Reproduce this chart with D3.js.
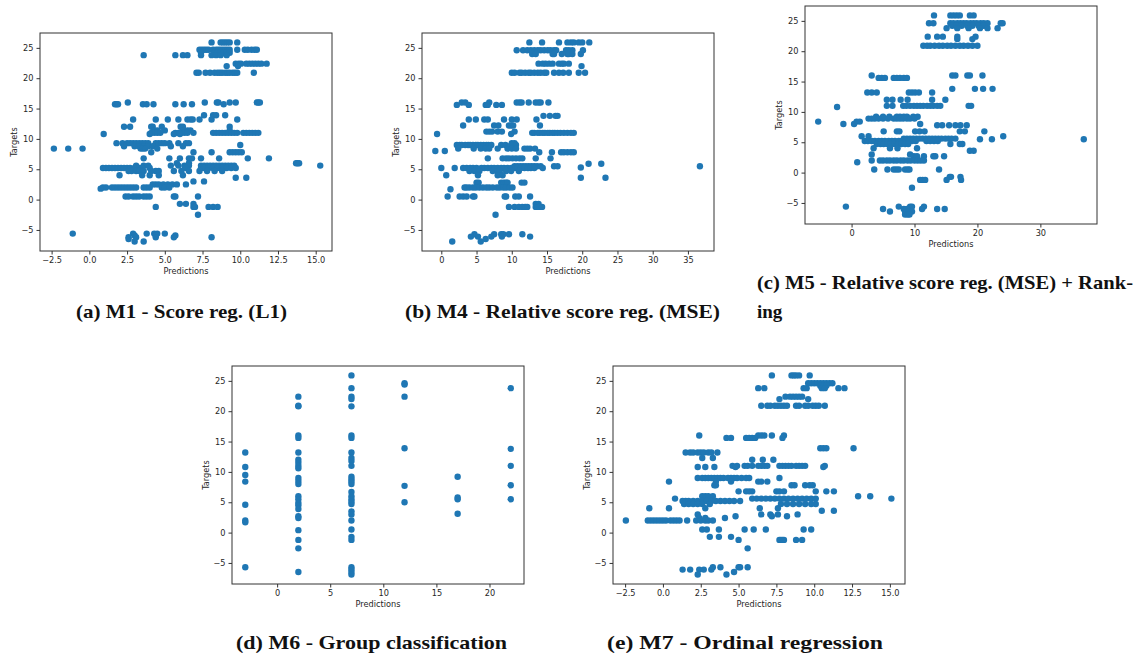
<!DOCTYPE html>
<html>
<head>
<meta charset="utf-8">
<script src="https://cdn.jsdelivr.net/npm/d3@7"></script>
<style>
  body { margin: 0; background: #fff; }
  svg { display: block; }
  .tick text { font-family: "DejaVu Sans", sans-serif; font-size: 8.2px; fill: #262626; }
  .tick line { stroke: #333; }
  .lab { font-family: "DejaVu Sans", sans-serif; font-size: 8.2px; fill: #262626; }
  .cap { font-family: "Liberation Serif", serif; font-weight: bold; font-size: 19px; fill: #111; }
</style>
</head>
<body>
<svg width="1143" height="657"></svg>
<script>
// rows: [target, [predictions...]]
let m1Rows = [
  [25.9, [8.1, 8.7, 8.85, 9.0, 9.15, 9.3, 9.8]],
  [24.7, [7.3, 7.45, 7.6, 7.75, 7.9, 8.2, 8.4, 8.55, 8.7, 8.85, 9.0, 9.15, 9.3, 9.8, 10.3, 10.5, 10.75, 10.95, 11.1]],
  [24.2, [7.4, 8.3, 8.5, 8.7, 8.9, 9.1, 9.3]],
  [23.8, [3.6, 5.7, 6.2, 6.5, 7.4, 8.1, 8.4, 8.7, 9.1]],
  [22.4, [9.7, 9.9, 10.05, 10.4, 10.6, 10.8, 11.0, 11.2, 11.4, 11.75]],
  [22.0, [9.1, 9.85]],
  [20.9, [7.1, 7.25, 7.7, 8.0, 8.3, 8.5, 8.65, 8.8, 9.0, 9.15, 9.3, 9.5, 9.65, 9.8, 10.9]],
  [16.0, [2.55, 7.65, 8.45, 8.55, 9.3, 9.7, 11.1, 11.2, 11.3]],
  [15.7, [1.7, 1.8, 1.9, 3.55, 3.8, 4.25, 5.7, 6.25, 6.8, 8.9]],
  [13.9, [7.6, 8.2, 8.4, 9.0]],
  [13.2, [2.9, 4.4, 5.2, 5.9, 6.5, 6.7, 6.85, 7.3, 8.1, 9.8]],
  [12.0, [2.3, 2.7, 4.1, 4.2, 4.8, 6.05, 6.2, 9.3]],
  [11.4, [4.3, 4.5, 5.0, 6.2, 6.5, 6.7, 9.3]],
  [11.0, [4.1, 4.3, 4.5, 4.7, 5.7, 5.9, 6.1, 6.3, 6.5, 6.9, 8.2, 8.4, 8.6, 8.8, 9.0, 9.2, 9.4, 9.6, 9.8, 10.2, 10.4, 10.6, 10.8, 11.0, 11.2]],
  [10.8, [0.95, 4.0, 5.6, 6.0]],
  [9.3, [1.8, 2.2, 2.5, 2.7, 2.9, 3.1, 3.3, 3.5, 3.7, 3.9, 4.4, 4.6, 4.8, 5.0, 5.3, 5.9, 6.4, 6.6]],
  [9.0, [10.0]],
  [8.8, [2.3, 3.0, 3.3, 3.6, 3.9, 4.2, 5.4, 6.2]],
  [8.4, [-2.35, -1.4, -0.45, 3.4, 3.55, 3.7, 4.5]],
  [7.8, [4.1, 6.9, 8.1, 9.3, 9.5, 9.7, 9.9, 10.1]],
  [6.8, [3.6, 5.3, 6.0, 6.6, 6.8, 7.4, 8.6, 10.5, 11.9]],
  [6.0, [5.8, 6.6, 13.7, 13.8, 13.9]],
  [5.6, [3.1, 3.6, 3.9, 5.4, 5.9, 6.3, 6.6, 7.4, 7.6, 7.8, 8.0, 8.2, 8.4, 8.6, 8.8, 9.0, 9.2, 9.4, 9.6, 15.3]],
  [5.2, [0.9, 1.1, 1.3, 1.5, 1.7, 1.9, 2.1, 2.3, 2.5, 2.7, 3.0, 3.3, 3.5, 4.0, 6.4, 7.4, 7.6, 7.9, 8.2, 8.5, 8.8, 9.1, 9.4, 9.7]],
  [4.7, [2.6, 2.8, 3.1, 3.3, 3.6, 4.1, 4.4, 4.6, 5.6, 6.1, 6.6, 7.3, 7.8, 8.3, 8.8]],
  [4.0, [2.0, 3.5, 4.0, 4.6, 6.2]],
  [3.6, [9.7, 10.4]],
  [3.0, [6.9, 7.6]],
  [2.5, [4.2, 4.4, 4.6, 4.9, 5.2, 5.5, 5.8, 6.4]],
  [2.0, [0.9, 1.1, 1.5, 1.7, 1.9, 2.1, 2.3, 2.5, 2.7, 2.9, 3.1, 3.6, 3.8, 4.0, 4.8, 5.0, 5.3]],
  [1.8, [0.75]],
  [0.5, [2.4, 2.6, 2.9, 3.1, 3.3, 3.6, 3.8, 4.0, 5.6, 5.7, 7.2]],
  [-0.7, [6.0, 6.4, 6.9]],
  [-1.2, [4.4, 6.9, 7.0, 7.9, 8.2, 8.5]],
  [-2.5, [7.2]],
  [-5.6, [-1.1, 2.9, 3.8, 4.3, 4.5, 5.0]],
  [-5.9, [3.0, 4.4, 5.7]],
  [-6.2, [2.6, 3.1, 4.4, 5.6, 8.1]],
  [-6.5, [2.6]],
  [-6.9, [3.0, 3.6]]
];

let m4Rows = [
  [25.9, [12.5, 14.3, 16.7, 17.9, 18.4, 18.8, 19.5, 20.0, 21.0]],
  [24.6, [10.7, 11.6, 12.2, 12.7, 13.2, 13.7, 14.1, 14.6, 15.1, 15.5, 16.0, 16.3, 17.7, 18.1, 18.6, 20.1]],
  [24.0, [12.9, 13.4, 15.8, 16.0, 17.1, 17.9, 18.1, 18.6, 19.8]],
  [22.4, [13.8, 14.4, 14.8, 15.3, 15.8, 16.7, 17.1, 17.4, 18.1]],
  [22.0, [19.9]],
  [20.9, [10.0, 10.4, 11.1, 11.4, 11.9, 12.4, 12.7, 13.2, 13.7, 14.1, 14.6, 14.9, 16.0, 16.7, 17.3, 18.1, 19.5, 20.4]],
  [16.0, [2.9, 3.4, 6.8, 10.7, 11.1, 11.4, 12.4, 13.4, 13.8, 14.1, 15.2]],
  [15.6, [2.2, 3.9, 6.3, 6.6, 7.8, 8.6]],
  [13.8, [14.5, 15.4, 16.2, 16.5]],
  [13.2, [3.9, 4.9, 6.1, 6.6, 8.9, 10.0, 10.7, 13.5]],
  [12.2, [3.1, 7.5, 8.1, 9.6, 9.9, 10.2, 14.0]],
  [11.2, [6.4, 6.8, 7.2, 8.0, 8.6, 10.4]],
  [11.0, [12.9, 13.2, 13.7, 14.0, 14.4, 14.7, 15.1, 15.4, 15.8, 16.1, 16.5, 16.9, 17.4, 17.9, 18.4, 18.8]],
  [10.8, [-0.6, 9.9]],
  [9.3, [10.0, 10.4]],
  [9.0, [2.2, 2.6, 2.9, 3.4, 3.8, 4.1, 4.5, 4.9, 5.2, 5.6, 6.0, 6.4, 6.7, 7.1, 8.5, 9.1, 9.9, 10.6]],
  [8.4, [2.4, 4.6, 5.6, 6.3, 6.8, 8.0, 9.4, 10.0, 10.6, 11.8, 12.2, 12.6, 13.3]],
  [8.0, [-0.85, 0.5]],
  [7.8, [13.9, 15.7, 17.0, 17.4, 17.9, 18.4, 18.8]],
  [6.8, [6.6, 8.7, 9.2, 9.6, 10.1, 10.6, 11.1, 11.5, 13.4, 15.5]],
  [5.9, [20.9, 22.7]],
  [5.5, [10.4, 10.8, 11.2, 11.6, 12.0, 12.4, 12.8, 13.2, 13.6, 14.1, 16.0, 16.5, 36.7]],
  [5.3, [19.8]],
  [5.2, [0.0, 1.9, 3.1, 3.6, 4.1, 4.5, 5.0, 5.7, 6.1, 6.6, 7.1, 7.5, 8.0, 8.5, 8.9, 9.4, 9.9, 10.4, 10.8, 11.3, 11.8, 12.3, 12.7, 13.2, 14.4]],
  [4.7, [4.0, 4.7, 5.4, 7.3, 8.0, 8.3, 9.2, 9.9, 11.0]],
  [4.0, [0.7, 5.2, 8.0, 8.7]],
  [3.6, [19.8, 23.3]],
  [2.8, [5.0, 5.3, 8.5, 8.9, 9.2, 9.4, 11.4, 11.8]],
  [2.0, [3.3, 3.6, 4.0, 4.5, 4.9, 5.4, 5.9, 6.4, 6.8, 7.3, 7.9, 8.3, 8.8, 9.2, 9.7, 10.1]],
  [1.7, [1.3]],
  [0.5, [0.9, 2.6, 3.1, 3.6, 4.5, 4.7, 9.0, 9.2, 10.5, 11.0, 12.6]],
  [-0.7, [13.4, 13.8]],
  [-1.2, [9.6, 10.4, 11.0, 11.5, 11.9, 12.2, 13.4, 13.7, 13.9, 14.3]],
  [-2.5, [7.7]],
  [-5.7, [4.7, 7.5, 8.5, 8.8, 9.6, 11.5]],
  [-6.1, [4.2, 5.2, 7.1, 8.6, 12.6]],
  [-6.5, [6.3]],
  [-6.9, [1.55, 5.6]]
];

let m5Rows = [
  [25.9, [13.1, 15.7, 16.2, 16.7, 17.2, 18.8, 19.4]],
  [24.6, [12.3, 13.0, 15.7, 16.2, 16.8, 17.3, 17.8, 18.3, 18.9, 19.4, 19.9, 20.5, 21.0, 21.6, 23.7, 24.0]],
  [24.2, [16.0, 16.7, 17.5, 18.4, 19.2, 20.2, 21.0]],
  [23.8, [15.1, 16.8, 18.6, 20.4, 21.6, 23.2]],
  [22.4, [12.1, 13.6, 14.5, 16.8, 19.7]],
  [22.0, [16.8, 19.2]],
  [20.9, [11.4, 12.0, 12.5, 13.2, 13.9, 14.5, 15.2, 15.8, 16.5, 17.2, 17.8, 18.5, 19.2, 20.0]],
  [16.0, [3.2, 16.0, 16.5, 18.4, 18.8, 20.8]],
  [15.6, [4.3, 4.8, 5.3, 6.7, 7.2, 7.7, 8.3, 8.8]],
  [13.8, [16.0, 19.6, 20.9, 22.4]],
  [13.2, [2.5, 3.2, 4.0, 9.1, 9.6, 10.1, 10.7, 12.8]],
  [12.0, [5.6, 6.5, 7.8, 8.9, 12.8, 14.9]],
  [11.0, [5.6, 6.5, 8.2, 8.7, 9.3, 9.9, 10.4, 10.9, 11.4, 12.0, 12.5, 13.0, 13.6, 14.1, 18.6, 19.0]],
  [10.8, [-2.3]],
  [9.2, [3.9, 5.0, 6.0, 7.2, 7.7, 8.3, 8.8, 9.8, 10.5]],
  [8.9, [2.7, 3.2, 3.7, 4.3, 5.0, 5.8, 6.7, 7.2, 7.7, 8.2, 8.8, 9.3, 10.0]],
  [8.4, [-5.3, 0.8, 1.3]],
  [8.0, [-1.3, 0.4, 10.9]],
  [7.8, [13.6, 14.4, 15.5, 16.5, 17.3, 18.3]],
  [6.8, [5.1, 7.2, 7.6, 10.1, 10.8, 11.6, 17.2, 18.0, 21.1]],
  [6.0, [1.6, 2.7, 24.1]],
  [5.6, [8.3, 8.8, 9.3, 9.8, 10.3, 10.8, 11.3, 11.8, 12.3, 12.8, 13.3, 13.8, 14.3, 14.9, 15.4, 15.9, 16.5]],
  [5.5, [20.4, 22.3, 36.9]],
  [5.2, [2.1, 2.6, 3.2, 3.7, 4.3, 4.8, 5.3, 5.9, 6.4, 6.9, 7.5, 8.0, 8.5, 9.1, 9.6, 10.2, 11.9, 12.5, 13.1, 13.7]],
  [4.7, [4.0, 4.6, 5.1, 5.7, 6.2, 6.8, 7.4, 7.9, 8.5, 9.0, 15.7, 17.2, 17.6]],
  [4.0, [3.5, 6.1, 7.3, 10.4]],
  [3.6, [18.8, 19.4]],
  [3.0, [3.2, 9.3]],
  [2.7, [9.9, 10.4, 11.5, 13.0, 13.3, 14.7]],
  [2.0, [3.2, 4.5, 5.0, 5.6, 6.1, 6.7, 7.2, 7.8, 8.3, 8.9, 9.4, 10.0, 10.5, 11.0, 11.5]],
  [1.7, [0.9]],
  [0.5, [3.6, 5.7, 6.7, 7.1, 7.5, 8.5, 8.9, 9.2, 13.9]],
  [-0.7, [15.6, 15.8, 17.3]],
  [-1.2, [10.9, 11.3, 11.7, 15.1, 17.4]],
  [-2.5, [9.6]],
  [-5.6, [-0.9, 7.5, 9.3, 9.6, 11.5]],
  [-6.0, [5.0, 8.3, 8.8, 11.2, 13.6, 14.8]],
  [-6.4, [6.1, 8.5, 9.1, 9.6]],
  [-6.9, [8.5, 8.9, 9.2]]
];

// M6 predicts a group value, so rows here are [prediction, [targets...]]
let m6Cols = [
  [-3, [13.2, 10.8, 9.5, 8.4, 4.6, 2.0, 1.7, -5.7]],
  [2, [22.4, 20.9, 20.8, 16.0, 15.6, 13.2, 12.0, 11.5, 11.0, 10.6, 9.0, 8.5, 8.0, 6.0, 5.5, 4.9, 4.5, 3.9, 2.7, 2.4, 0.4, -1.2, -2.6, -6.5]],
  [7, [25.9, 23.8, 22.4, 22.0, 20.8, 16.0, 15.6, 13.2, 12.3, 11.8, 11.0, 9.2, 8.8, 8.4, 8.0, 6.7, 6.0, 5.5, 5.1, 4.7, 3.5, 3.0, 2.0, 0.5, -0.7, -1.2, -5.7, -6.1, -6.5, -6.9]],
  [12, [24.6, 24.4, 22.4, 13.9, 7.7, 5.0]],
  [17, [9.2, 5.8, 5.5, 3.1]],
  [22, [23.8, 13.8, 11.0, 7.8, 5.5]]
];

let m7Rows = [
  [25.9, [7.2, 8.5, 8.65, 8.8, 9.0, 9.7]],
  [24.6, [9.6, 9.8, 10.0, 10.2, 10.4, 10.6, 10.8, 11.0, 11.2]],
  [24.2, [10.4, 10.6, 10.8]],
  [23.8, [6.3, 6.7, 9.3, 9.5, 10.5, 10.7, 11.6, 12.0]],
  [22.4, [8.1, 8.4, 8.6, 8.8, 9.0, 9.2]],
  [22.0, [7.7, 9.6]],
  [20.9, [6.5, 6.9, 7.1, 7.4, 7.6, 7.8, 8.0, 8.2, 8.8, 9.0, 9.4, 9.6, 9.9, 10.1, 10.3, 10.7]],
  [16.0, [2.4, 6.3, 6.5, 6.7, 7.2, 8.0]],
  [15.6, [4.2, 4.5, 5.5, 5.7, 5.9, 6.1, 7.9]],
  [13.9, [10.4, 10.6, 10.8, 12.6]],
  [13.2, [1.5, 1.8, 2.0, 2.3, 2.5, 2.7, 3.0, 3.2, 3.6]],
  [12.3, [2.6, 3.3]],
  [12.0, [5.9, 6.6, 7.3]],
  [11.0, [4.6, 4.9, 5.4, 5.6, 5.9, 6.3, 6.5, 6.7, 6.9, 7.7, 7.9, 8.1, 8.3, 8.5, 8.8, 9.0, 9.2, 9.4, 10.7]],
  [10.8, [2.3, 2.8, 3.4, 4.8, 10.6]],
  [9.0, [2.3, 2.6, 2.8, 3.0, 3.2, 3.4, 3.6, 3.8, 4.0, 4.3, 4.5, 4.7, 4.9, 5.2, 5.5, 5.7, 7.7]],
  [8.4, [0.4, 3.5, 4.5, 6.3, 6.5, 6.9]],
  [7.8, [3.4, 3.5, 8.5, 8.7, 9.4, 9.7, 9.9]],
  [6.8, [5.0, 5.5, 5.7, 5.9, 7.5, 7.7, 8.0, 10.1, 10.8, 11.3]],
  [6.0, [2.6, 2.8, 3.0, 3.3, 12.9, 13.7]],
  [5.6, [0.8, 5.9, 6.2, 6.5, 6.8, 7.1, 7.4, 7.7, 8.0, 8.3, 8.6, 8.9, 9.2, 9.5, 9.8, 10.1, 15.1]],
  [5.2, [1.3, 1.5, 1.7, 2.0, 2.3, 2.6, 2.9, 3.2, 3.5, 3.8, 4.1, 4.4, 4.7, 5.1]],
  [4.7, [1.4, 1.7, 2.0, 2.3, 2.6, 3.1, 7.8, 8.2, 8.6, 9.0, 9.4, 9.8, 10.1]],
  [4.0, [-0.9, 0.4, 2.8, 6.4, 7.6]],
  [3.6, [10.5, 11.3]],
  [3.0, [2.3, 6.5, 7.1, 7.6, 8.9]],
  [2.7, [4.8, 7.2, 8.2]],
  [2.4, [2.4, 2.8, 4.1]],
  [2.0, [-2.45, -1.0, -0.8, -0.6, -0.4, -0.2, 0.0, 0.2, 0.5, 0.7, 0.9, 1.1, 1.6, 2.2, 2.5, 2.8, 3.0, 3.3]],
  [0.5, [2.6, 2.9, 3.7, 5.4, 6.0, 6.8, 9.3, 9.8]],
  [-0.7, [3.1, 3.7, 4.5]],
  [-1.2, [5.0, 7.7, 7.8, 7.9, 8.0, 8.8, 9.2]],
  [-2.6, [5.6]],
  [-5.7, [3.3, 3.8, 5.0, 5.1, 5.6]],
  [-6.1, [1.3, 1.8, 2.4, 2.7, 3.2]],
  [-6.5, [4.7]],
  [-6.9, [2.3, 4.2]]
];

let yTicks = [-5, 0, 5, 10, 15, 20, 25];
let halfTicks = [-2.5, 0, 2.5, 5, 7.5, 10, 12.5, 15];
let m4XTicks = [0, 5, 10, 15, 20, 25, 30, 35];
let m5XTicks = [0, 10, 20, 30];
let m6XTicks = [0, 5, 10, 15, 20];

let captions = [
  '(a) M1 - Score reg. (L1)',
  '(b) M4 - Relative score reg. (MSE)',
  '(c) M5 - Relative score reg. (MSE) + Rank-',
  'ing',
  '(d) M6 - Group classification',
  '(e) M7 - Ordinal regression'
];

let toPoints = rows => rows.flatMap(([t, ps]) => ps.map(p => [p, t]));

let panels = [
  { pts: toPoints(m1Rows), left: 40, top: 33, xd: [-3.27, 16.08], xt: halfTicks, fmt: d3.format('.1f') },
  { pts: toPoints(m4Rows), left: 422, top: 33, xd: [-2.74, 38.7], xt: m4XTicks, fmt: d3.format('d') },
  { pts: toPoints(m5Rows), left: 805, top: 6, xd: [-7.4, 39.0], xt: m5XTicks, fmt: d3.format('d') },
  { pts: m6Cols.flatMap(([p, ts]) => ts.map(t => [p, t])), left: 232, top: 366, xd: [-4.25, 23.25], xt: m6XTicks, fmt: d3.format('d') },
  { pts: toPoints(m7Rows), left: 613, top: 366, xd: [-3.3, 16.0], xt: halfTicks, fmt: d3.format('.1f') }
];

let W = 292, H = 218;
let svg = d3.select('svg');

panels.forEach(p => {
  let g = svg.append('g').attr('transform', `translate(${p.left},${p.top})`);
  let x = d3.scaleLinear().domain(p.xd).range([0, W]);
  let y = d3.scaleLinear().domain([-8.47, 27.45]).range([H, 0]);

  g.append('g').selectAll('circle')
      .data(p.pts)
    .enter().append('circle')
      .attr('cx', d => x(d[0]))
      .attr('cy', d => y(d[1]))
      .attr('r', 3.2)
      .attr('fill', '#1f77b4');

  g.append('g')
      .attr('transform', `translate(0,${H})`)
      .call(d3.axisBottom(x).tickValues(p.xt).tickFormat(p.fmt).tickSize(3.5).tickPadding(3))
      .call(a => a.select('.domain').remove());

  g.append('g')
      .call(d3.axisLeft(y).tickValues(yTicks).tickFormat(d3.format('d')).tickSize(3.5).tickPadding(3))
      .call(a => a.select('.domain').remove());

  g.append('rect')
      .attr('width', W).attr('height', H)
      .attr('fill', 'none').attr('stroke', '#333').attr('stroke-width', 1);

  g.append('text').attr('class', 'lab')
      .attr('x', W / 2).attr('y', H + 23)
      .attr('text-anchor', 'middle')
      .text('Predictions');

  g.append('text').attr('class', 'lab')
      .attr('transform', `translate(-23,${H / 2}) rotate(-90)`)
      .attr('text-anchor', 'middle')
      .text('Targets');
});

// figure captions
let capPos = [
  { x: 76, y: 318, len: 211 },
  { x: 405, y: 318, len: 315 },
  { x: 757, y: 289, len: 376 },
  { x: 757, y: 318, len: 0 },
  { x: 236, y: 649, len: 271 },
  { x: 607, y: 649, len: 276 }
];

captions.forEach((c, i) => {
  let t = svg.append('text').attr('class', 'cap')
      .attr('x', capPos[i].x).attr('y', capPos[i].y)
      .text(c);
  if (capPos[i].len) t.attr('textLength', capPos[i].len).attr('lengthAdjust', 'spacingAndGlyphs');
});
</script>
</body>
</html>
